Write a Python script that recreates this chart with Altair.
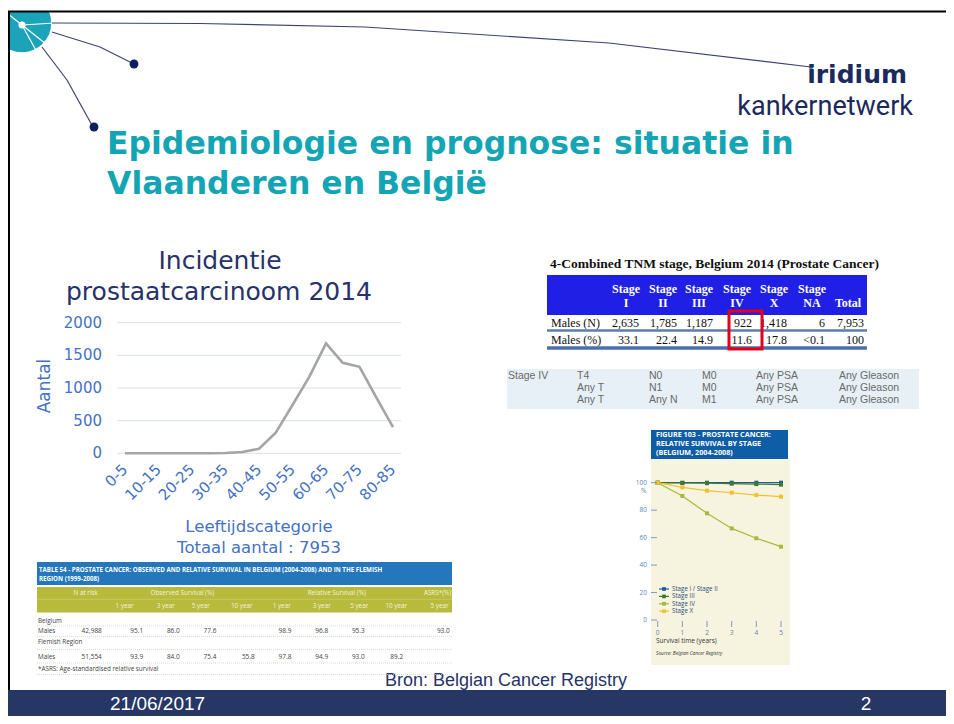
import altair as alt
import pandas as pd

# ------------------------------------------------------------------ data
AGE_CATS = ["0-5", "5-10", "10-15", "15-20", "20-25", "25-30", "30-35", "35-40",
            "40-45", "45-50", "50-55", "55-60", "60-65", "65-70", "70-75", "75-80", "80-85"]
COUNTS = [0, 0, 0, 0, 0, 1, 5, 20, 70, 316, 740, 1170, 1683, 1385, 1325, 855, 400]
Y_TICKS = [0, 500, 1000, 1500, 2000]

SURV_YEARS = [0, 1, 2, 3, 4, 5]
SURV_STAGES = ["Stage I / Stage II", "Stage III", "Stage IV", "Stage X"]
SURV_I_II = [100, 100, 100, 100, 100, 100]
SURV_III = [100, 99.8, 99.6, 99.3, 99.0, 98.6]
SURV_IV = [100, 90.3, 77.7, 66.7, 59.5, 53.4]
SURV_X = [100, 96.6, 94.2, 92.7, 91.0, 89.8]
SURV_COLORS = ["#1f5c99", "#3d7a2e", "#a9b83a", "#f2c12e"]
SURV_TICKS = [0, 20, 40, 60, 80, 100]

TNM_HEAD = ["I", "II", "III", "IV", "X", "NA"]
TNM_N = ["2,635", "1,785", "1,187", "922", "1,418", "6", "7,953"]
TNM_PCT = ["33.1", "22.4", "14.9", "11.6", "17.8", "<0.1", "100"]

STAGE4_ROWS = [["Stage IV", "T4", "N0", "M0", "Any PSA", "Any Gleason"],
               ["", "Any T", "N1", "M0", "Any PSA", "Any Gleason"],
               ["", "Any T", "Any N", "M1", "Any PSA", "Any Gleason"]]

T54_GROUPS = ["N at risk", "Observed Survival (%)", "Relative Survival (%)", "ASRS*(%)"]
T54_HEAD2 = ["1 year", "3 year", "5 year", "10 year", "1 year", "3 year", "5 year", "10 year", "5 year"]
T54_BE = ["42,988", "95.1", "86.0", "77.6", "", "98.9", "96.8", "95.3", "", "93.0"]
T54_FL = ["51,554", "93.9", "84.0", "75.4", "55.8", "97.8", "94.9", "93.0", "89.2", ""]

# ------------------------------------------------------------------ helpers
OFF = 8
ONE = pd.DataFrame({"a": [0]})


def T(s, x, y, size=12, color="#000000", font="DejaVu Sans", weight="normal",
      align="left", baseline="middle", angle=0, style="normal"):
    return alt.Chart(ONE).mark_text(
        text=s, fontSize=size, color=color, font=font, fontWeight=weight,
        align=align, baseline=baseline, angle=angle, fontStyle=style
    ).encode(x=alt.value(x - OFF), y=alt.value(y - OFF))


def R(x1, y1, x2, y2, color, w=1.0, dash=None):
    kw = dict(color=color, strokeWidth=w)
    if dash:
        kw["strokeDash"] = dash
    return alt.Chart(ONE).mark_rule(**kw).encode(
        x=alt.value(x1 - OFF), y=alt.value(y1 - OFF),
        x2=alt.value(x2 - OFF), y2=alt.value(y2 - OFF))


def B(x1, y1, x2, y2, color, stroke=None, sw=0):
    kw = dict(color=color)
    if stroke:
        kw = dict(fillOpacity=0, stroke=stroke, strokeWidth=sw)
    return alt.Chart(ONE).mark_rect(**kw).encode(
        x=alt.value(x1 - OFF), x2=alt.value(x2 - OFF),
        y=alt.value(y1 - OFF), y2=alt.value(y2 - OFF))


def C(x, y, r, color):
    return alt.Chart(ONE).mark_circle(size=3.1416 * r * r, color=color, opacity=1).encode(
        x=alt.value(x - OFF), y=alt.value(y - OFF))


layers = []

# ------------------------------------------------------------------ slide template
layers += [
    C(22, 23, 33, "#1ba3b9"),
    R(22, 25, 8, 14, "white", 1.2), R(22, 25, 55, 23, "white", 1.2),
    R(22, 25, 46, 44, "white", 1.2), R(22, 25, 38, 54, "white", 1.2),
    C(22, 25, 4, "white"),
    B(8, 0, 120, 11, "white"),
    R(52, 23, 200, 23.5, "#3a4470", 1.2), R(200, 23.5, 365, 27, "#3a4470", 1.2),
    R(365, 27, 609, 43, "#3a4470", 1.2), R(609, 43, 811, 67, "#3a4470", 1.2),
    R(52, 32, 100, 47, "#3a4470", 1.2), R(100, 47, 134, 64, "#3a4470", 1.2),
    R(42, 47, 67, 80, "#3a4470", 1.2), R(67, 80, 93, 127, "#3a4470", 1.2),
    C(134, 64, 5, "#0d1f5c"), C(94, 127, 5, "#0d1f5c"), C(811, 67, 2.5, "#1ba3b9"),
    R(8, 11.5, 954, 11.5, "black", 2), R(9, 11, 9, 690, "black", 2),
    T("iridium", 907, 83, size=25, color="#1b2a5c", weight="bold", align="right", baseline="alphabetic"),
    T("kankernetwerk", 913, 115, size=27, color="#1b2a5c", font="Roboto", align="right", baseline="alphabetic"),
    T("Epidemiologie en prognose: situatie in", 107, 154, size=31.5, color="#14a5b5", weight="bold", baseline="alphabetic"),
    T("Vlaanderen en België", 107, 194, size=31.5, color="#14a5b5", weight="bold", baseline="alphabetic"),
    B(8, 690, 954, 724, "#263765"),
    T("21/06/2017", 110, 704, size=19, color="white", font="Liberation Sans"),
    T("2", 866, 704, size=19, color="white", font="Liberation Sans", align="center"),
    T("Bron: Belgian Cancer Registry", 385, 681, size=18, color="#26336a", font="Liberation Sans"),
]

# ------------------------------------------------------------------ main line chart
xs = alt.Scale(domain=AGE_CATS, range=[125 - OFF, 393 - OFF], padding=0)
ys = alt.Scale(domain=[0, 2000], range=[453.3 - OFF, 322.7 - OFF], nice=False, zero=False)

df_line = pd.DataFrame({"cat": AGE_CATS, "n": COUNTS, "i": list(range(len(AGE_CATS)))})
df_ticks = pd.DataFrame({"t": Y_TICKS, "lab": [str(v) for v in Y_TICKS]})
df_xlab = pd.DataFrame({"cat": AGE_CATS[::2]})

grid = alt.Chart(df_ticks).mark_rule(color="#d9dff1", strokeWidth=1).encode(
    y=alt.Y("t:Q", scale=ys, axis=None), x=alt.value(117 - OFF), x2=alt.value(401 - OFF))
line = alt.Chart(df_line).mark_line(color="#a5a5a5", strokeWidth=2.6).encode(
    x=alt.X("cat:O", scale=xs, axis=None),
    y=alt.Y("n:Q", scale=ys, axis=None),
    order=alt.Order("i:Q"))
ylab = alt.Chart(df_ticks).mark_text(align="right", baseline="middle", fontSize=15,
                                     font="DejaVu Sans", color="#4472c4").encode(
    y=alt.Y("t:Q", scale=ys, axis=None), x=alt.value(102 - OFF), text="lab:N")
xlab = alt.Chart(df_xlab).mark_text(align="right", baseline="middle", fontSize=15, angle=315,
                                    font="DejaVu Sans", color="#4472c4").encode(
    x=alt.X("cat:O", scale=xs, axis=None), y=alt.value(467 - OFF), text="cat:N")
main = alt.layer(grid, line, ylab, xlab)
layers.append(main)

layers += [
    T("Incidentie", 220, 261, size=25, color="#26336a", align="center"),
    T("prostaatcarcinoom 2014", 219, 292, size=25, color="#26336a", align="center"),
    T("Aantal", 45, 386, size=17, color="#4472c4", align="center", angle=270),
    T("Leeftijdscategorie", 259, 527, size=16.5, color="#4472c4", align="center"),
    T("Totaal aantal : 7953", 259, 548, size=16.5, color="#4472c4", align="center"),
]

# ------------------------------------------------------------------ TNM table
layers += [
    T("4-Combined TNM stage, Belgium 2014 (Prostate Cancer)", 550, 264, size=13.5,
      font="Liberation Serif", weight="bold", color="#111111"),
    B(547, 275, 867, 315, "#1f1fe6"),
]
tnm_cx = [626, 663, 699, 737, 774, 812]
for cx, h in zip(tnm_cx, TNM_HEAD):
    layers.append(T("Stage", cx, 289, size=12, font="Liberation Serif", weight="bold", color="white", align="center"))
    layers.append(T(h, cx, 302.5, size=12, font="Liberation Serif", weight="bold", color="white", align="center"))
layers.append(T("Total", 848, 302.5, size=12, font="Liberation Serif", weight="bold", color="white", align="center"))
tnm_right = [639, 677, 713, 752, 787, 825, 864]
layers.append(T("Males (N)", 551, 322.5, size=12, font="Liberation Serif", color="#111111"))
layers.append(T("Males (%)", 551, 339.5, size=12, font="Liberation Serif", color="#111111"))
for rx, v1, v2 in zip(tnm_right, TNM_N, TNM_PCT):
    layers.append(T(v1, rx, 322.5, size=12, font="Liberation Serif", color="#111111", align="right"))
    layers.append(T(v2, rx, 339.5, size=12, font="Liberation Serif", color="#111111", align="right"))
layers += [
    R(547, 330.5, 867, 330.5, "#5b7db1", 2.5),
    R(547, 348, 867, 348, "#4d6fa8", 3.5),
    B(729, 311, 762, 349, None, stroke="#e3001b", sw=3),
]

# ------------------------------------------------------------------ stage IV definition band
layers.append(B(507, 369, 919, 409, "#e6f0f6"))
s4_x = [508, 577, 649, 702, 756, 839]
for r, row in enumerate(STAGE4_ROWS):
    for cx, s in zip(s4_x, row):
        if s:
            layers.append(T(s, cx, 375.5 + 12 * r, size=10.5, font="Liberation Sans", color="#6a6a6a"))

# ------------------------------------------------------------------ survival figure
layers += [
    B(651, 459, 790, 665, "#f6f3de"),
    B(651, 430, 788, 459, "#0d5ea6"),
    T("FIGURE 103 - PROSTATE CANCER:", 656, 434.5, size=7.2, font="Open Sans", weight="bold", color="white"),
    T("RELATIVE SURVIVAL BY STAGE", 656, 443.5, size=7.2, font="Open Sans", weight="bold", color="white"),
    T("(BELGIUM, 2004-2008)", 656, 452.5, size=7.2, font="Open Sans", weight="bold", color="white"),
]
sx = alt.Scale(domain=[0, 5], range=[657.7 - OFF, 781 - OFF], nice=False, zero=False)
sy = alt.Scale(domain=[0, 100], range=[620 - OFF, 482.7 - OFF], nice=False, zero=False)
rows = []
for st, vals in zip(SURV_STAGES, [SURV_I_II, SURV_III, SURV_IV, SURV_X]):
    for yr, v in zip(SURV_YEARS, vals):
        rows.append({"year": yr, "surv": v, "stage": st})
df_surv = pd.DataFrame(rows)
df_sticks = pd.DataFrame({"t": SURV_TICKS, "lab": [str(v) for v in SURV_TICKS]})
df_syears = pd.DataFrame({"year": SURV_YEARS, "lab": [str(v) for v in SURV_YEARS]})

s_lines = alt.Chart(df_surv).mark_line(
    strokeWidth=1.2, point=alt.OverlayMarkDef(filled=True, size=16, shape="square")).encode(
    x=alt.X("year:Q", scale=sx, axis=None),
    y=alt.Y("surv:Q", scale=sy, axis=None),
    color=alt.Color("stage:N", scale=alt.Scale(domain=SURV_STAGES, range=SURV_COLORS), legend=None),
    detail="stage:N")
s_ylab = alt.Chart(df_sticks).mark_text(align="right", baseline="middle", fontSize=6.5,
                                        font="Open Sans", color="#5b87b8").encode(
    y=alt.Y("t:Q", scale=sy, axis=None), x=alt.value(647 - OFF), text="lab:N")
s_ytick = alt.Chart(df_sticks).mark_rule(color="#5b87b8", strokeWidth=0.8).encode(
    y=alt.Y("t:Q", scale=sy, axis=None), x=alt.value(651 - OFF), x2=alt.value(657 - OFF))
s_xtick = alt.Chart(df_syears).mark_rule(color="#5b87b8", strokeWidth=0.8).encode(
    x=alt.X("year:Q", scale=sx, axis=None), y=alt.value(621 - OFF), y2=alt.value(627 - OFF))
s_xlab = alt.Chart(df_syears).mark_text(align="center", baseline="middle", fontSize=6.5,
                                        font="Open Sans", color="#5b87b8").encode(
    x=alt.X("year:Q", scale=sx, axis=None), y=alt.value(633 - OFF), text="lab:N")
surv = alt.layer(s_lines, s_ylab, s_ytick, s_xtick, s_xlab)
layers.append(surv)

layers += [
    T("%", 641, 491, size=6.5, font="Open Sans", color="#5b87b8"),
    T("Survival time (years)", 656, 641, size=6.5, font="Open Sans", color="#333333"),
    T("Source: Belgian Cancer Registry", 656, 654, size=4.8, font="Open Sans", color="#333333", style="italic"),
]
for k, (st, col) in enumerate(zip(SURV_STAGES, SURV_COLORS)):
    yy = 589 + 7.4 * k
    layers.append(R(659, yy, 669, yy, col, 1.2))
    layers.append(alt.Chart(ONE).mark_square(size=14, color=col, opacity=1).encode(
        x=alt.value(664 - OFF), y=alt.value(yy - OFF)))
    layers.append(T(st, 672, yy, size=6.2, font="Open Sans", color="#2a4f80"))

# ------------------------------------------------------------------ table 54
layers += [
    B(37, 562, 452, 585, "#2377ba"),
    T("TABLE 54 - PROSTATE CANCER: OBSERVED AND RELATIVE SURVIVAL IN BELGIUM (2004-2008) AND IN THE FLEMISH",
      39, 570, size=6.2, font="Open Sans", weight="bold", color="white"),
    T("REGION (1999-2008)", 39, 579, size=6.2, font="Open Sans", weight="bold", color="white"),
    B(37, 587, 452, 612.5, "#b8ba3c"),
    R(37, 599.3, 452, 599.3, "#c9cb6a", 0.8),
]
grp_x = [85.7, 182.3, 336.7, 437.5]
for gx, g in zip(grp_x, T54_GROUPS):
    layers.append(T(g, gx, 593, size=6.3, font="Open Sans", color="#f4f4dc", align="center"))
h2_x = [124.5, 165.8, 200.8, 241.7, 281.7, 321.7, 359.2, 396.3, 439.5]
for hx, h in zip(h2_x, T54_HEAD2):
    layers.append(T(h, hx, 605.5, size=6.3, font="Open Sans", color="#f4f4dc", align="center"))
val_x = [91.7, 136.7, 173.3, 210, 248.3, 285, 321.7, 358.3, 396.7, 443.3]
layers += [
    T("Belgium", 38, 621, size=6.3, font="Open Sans", color="#444444"),
    T("Males", 38, 631, size=6.3, font="Open Sans", color="#444444"),
    T("Flemish Region", 38, 642, size=6.3, font="Open Sans", color="#444444"),
    T("Males", 38, 657, size=6.3, font="Open Sans", color="#444444"),
    T("*ASRS: Age-standardised relative survival", 38, 668.5, size=6.3, font="Open Sans", color="#444444"),
]
for vx, v1, v2 in zip(val_x, T54_BE, T54_FL):
    if v1:
        layers.append(T(v1, vx, 631, size=6.5, font="Open Sans", color="#444444", align="center"))
    if v2:
        layers.append(T(v2, vx, 657, size=6.5, font="Open Sans", color="#444444", align="center"))
for yy in [626, 636.5, 649.5, 663, 674.5]:
    layers.append(R(37, yy, 452, yy, "#cfcfcf", 0.7, dash=[1, 1]))

# ------------------------------------------------------------------ compose
chart = alt.layer(*layers).resolve_scale(
    x="independent", y="independent", color="independent"
).properties(
    width=938, height=708, padding=0, autosize=alt.AutoSizeParams(type="none"), background="white"
).configure_view(stroke="transparent")

chart.save("out.html", embed_options={"renderer": "svg", "actions": False})
